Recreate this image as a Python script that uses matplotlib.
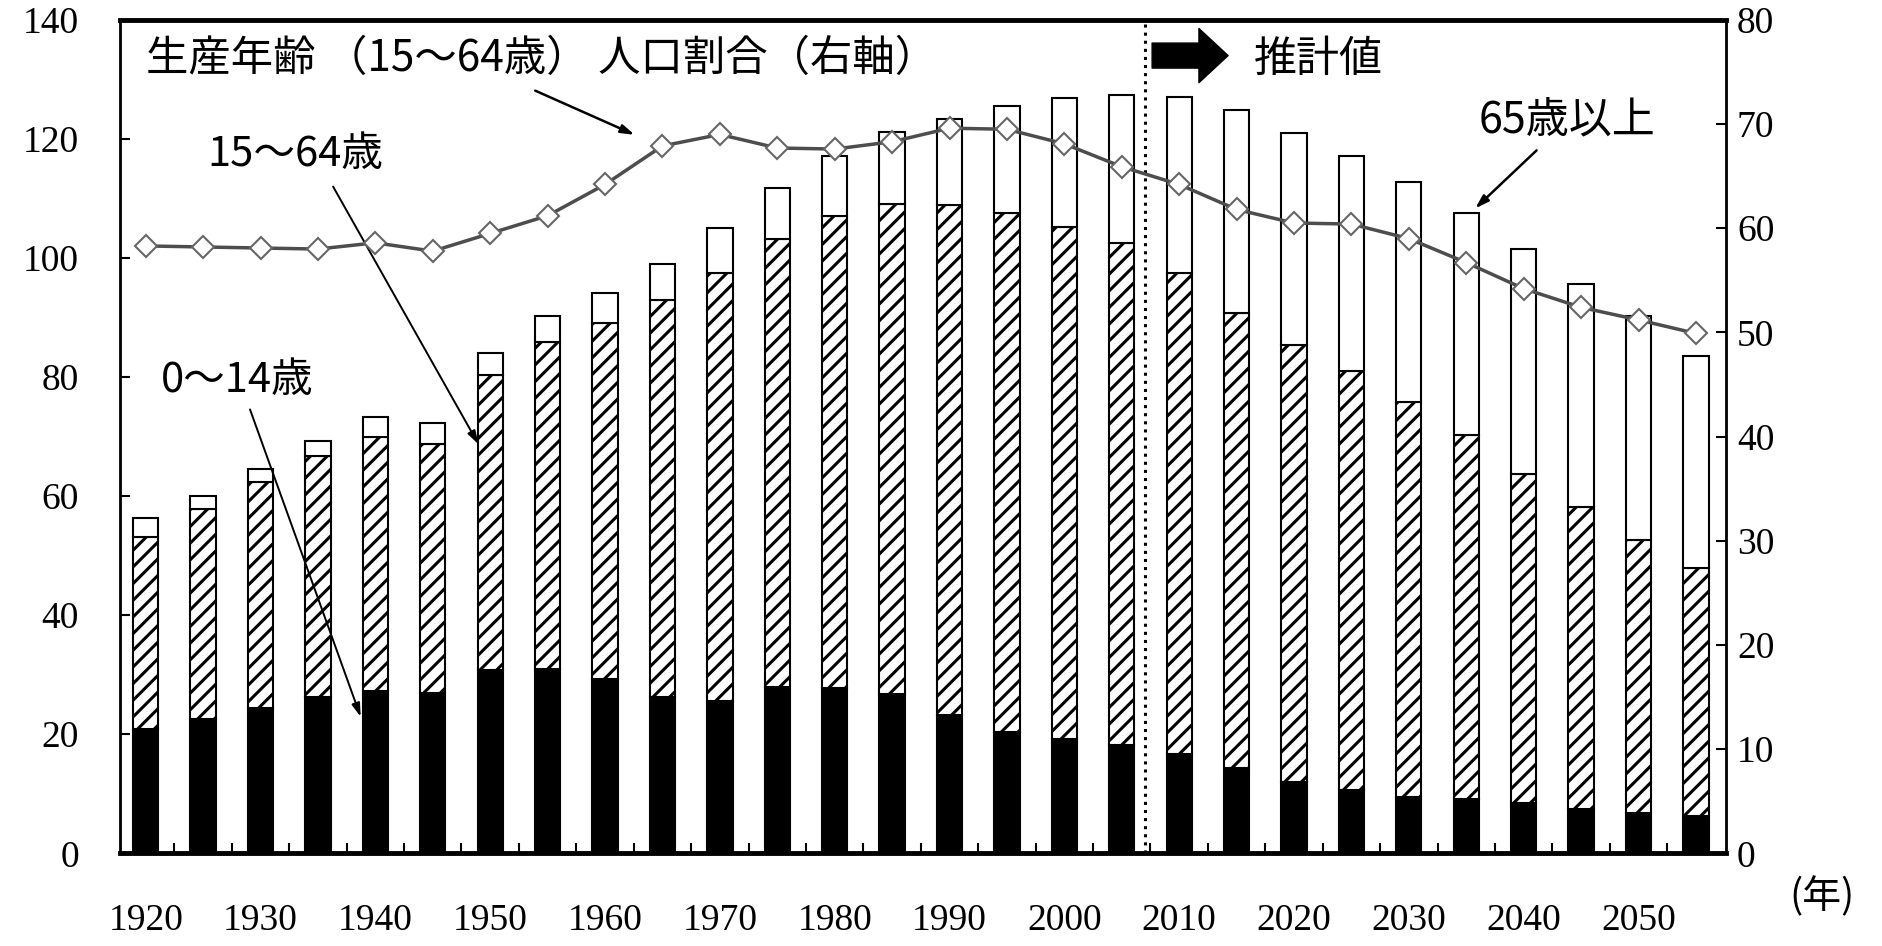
import numpy as np
import matplotlib
matplotlib.use("Agg")
from matplotlib import pyplot as plt

plt.rcParams['font.family'] = ['Noto Sans CJK JP', 'DejaVu Sans']
plt.rcParams['hatch.linewidth'] = 2.2

# years (5 year steps, 2010 onward = projection)
years = list(range(1920, 2060, 5))

# population (millions)
age_0_14 = [20.8, 22.6, 24.4, 26.2, 27.3, 27.0, 30.8, 30.9, 29.3, 26.3,
            25.6, 27.9, 27.8, 26.8, 23.2, 20.4, 19.2, 18.2, 16.7, 14.4,
            12.0, 10.6, 9.5, 9.2, 8.5, 7.5, 6.7, 6.3]
age_0_64 = [53.2, 57.8, 62.3, 66.7, 70.0, 68.8, 80.4, 85.9, 89.1, 93.0,
            97.5, 103.2, 107.0, 109.1, 108.9, 107.5, 105.2, 102.6, 97.5, 90.8,
            85.3, 81.0, 75.8, 70.3, 63.7, 58.2, 52.7, 48.0]
total = [56.3, 60.0, 64.6, 69.3, 73.3, 72.3, 84.0, 90.3, 94.2, 99.0,
         105.0, 111.8, 117.2, 121.2, 123.4, 125.5, 126.8, 127.4, 127.0, 124.8,
         121.0, 117.2, 112.8, 107.6, 101.5, 95.7, 90.2, 83.6]
# share of 15-64 (%), right axis
ratio_15_64 = [58.3, 58.2, 58.1, 58.0, 58.6, 57.8, 59.5, 61.2, 64.2, 67.9,
               69.0, 67.7, 67.6, 68.3, 69.6, 69.5, 68.1, 65.9, 64.2, 61.8,
               60.5, 60.4, 59.0, 56.7, 54.2, 52.4, 51.2, 49.9]

label_years = list(range(1920, 2060, 10))

age_0_14 = np.array(age_0_14)
age_15_64 = np.array(age_0_64) - age_0_14
age_65 = np.array(total) - np.array(age_0_64)

fig = plt.figure(figsize=(18.82, 9.46), dpi=100)
ax = fig.add_axes([0.064, 0.098, 0.853, 0.881])

w = 2.2
ax.bar(years, age_0_14, width=w, color='black', edgecolor='black', lw=1.5)
ax.bar(years, age_15_64, width=w, bottom=age_0_14, color='white',
       edgecolor='black', hatch='//', lw=1.5)
ax.bar(years, age_65, width=w, bottom=age_0_14 + age_15_64, color='white',
       edgecolor='black', lw=1.5)

ax.axvline(2007, color='black', ls=':', lw=2.2)

ax.set_xlim(1917.8, 2057.6)
ax.set_ylim(0, 140)
ax.set_yticks(range(0, 141, 20))
ax.set_xticks(label_years)
ax.set_xticks(np.arange(1922.5, 2056, 5), minor=True)
ax.tick_params(axis='x', which='major', length=0, pad=36)
ax.tick_params(axis='x', which='minor', direction='in', length=7, width=1.5)
ax.tick_params(axis='y', direction='in', length=7, width=1.5, pad=30)
for lab in ax.get_xticklabels() + ax.get_yticklabels():
    lab.set_family('Liberation Serif')
    lab.set_fontsize(27)

for s in ['top', 'bottom']:
    ax.spines[s].set_linewidth(3.5)
for s in ['left', 'right']:
    ax.spines[s].set_linewidth(2)

ax2 = ax.twinx()
ax2.set_ylim(0, 80)
ax2.set_yticks(range(0, 81, 10))
ax2.tick_params(axis='y', direction='in', length=7, width=1.5, pad=8)
for lab in ax2.get_yticklabels():
    lab.set_family('Liberation Serif')
    lab.set_fontsize(27)
ax2.plot(years, ratio_15_64, color='#4d4d4d', lw=2.5, marker='D',
         markersize=11, markerfacecolor='white', markeredgecolor='#666666',
         markeredgewidth=1.5, zorder=5)

# labels and arrows
arr = dict(arrowstyle='-|>,head_length=0.8,head_width=0.25', color='black', lw=1.8)
ax.text(1920, 133.5, '生産年齢 （15～64歳） 人口割合（右軸）', fontsize=30.5,
        ha='left', va='center')
ax.annotate('', xy=(1962.8, 120.5), xytext=(1953.7, 128.3), arrowprops=arr)
ax.text(1933, 117.4, '15～64歳', fontsize=30, ha='center', va='center')
ax.annotate('', xy=(1949.1, 68.3), xytext=(1936.2, 112.4),
            arrowprops=dict(arr, lw=1.4))
ax.text(1928, 79.4, '0～14歳', fontsize=30, ha='center', va='center')
ax.annotate('', xy=(1938.8, 22.5), xytext=(1929, 75),
            arrowprops=dict(arr, lw=1.4))
ax.text(2043.8, 123.1, '65歳以上', fontsize=31, ha='center', va='center')
ax.annotate('', xy=(2035.6, 108), xytext=(2041.3, 118.4), arrowprops=arr)

ax.annotate('', xy=(2014.5, 134), xytext=(2007.4, 134),
            arrowprops=dict(arrowstyle='simple,head_length=0.7,head_width=1.3,tail_width=0.6',
                            color='black', mutation_scale=30))
ax.text(2016.5, 133.3, '推計値', fontsize=31, ha='left', va='center')

fig.text(0.968, 0.052, '(年)', fontsize=28, ha='center', va='center')

fig.savefig('out.png', dpi=100)
